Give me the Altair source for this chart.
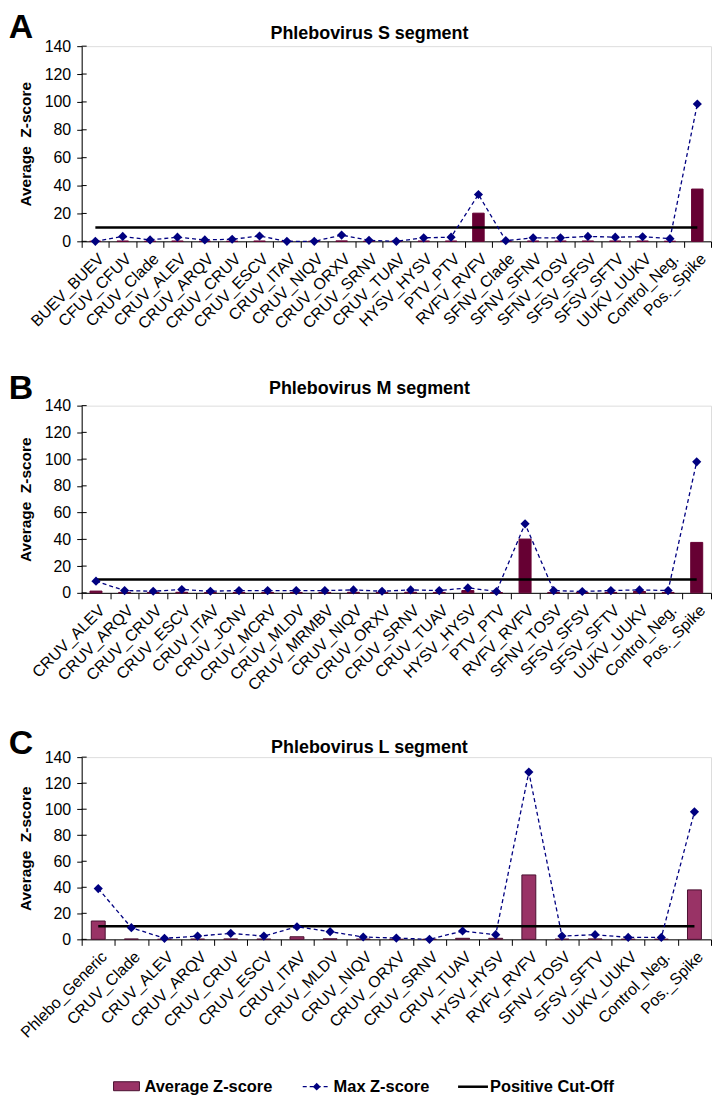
import altair as alt
import pandas as pd

# ---------------- data ----------------
s_cats = ["BUEV_BUEV", "CFUV_CFUV", "CRUV_Clade", "CRUV_ALEV", "CRUV_ARQV", "CRUV_CRUV",
          "CRUV_ESCV", "CRUV_ITAV", "CRUV_NIQV", "CRUV_ORXV", "CRUV_SRNV", "CRUV_TUAV",
          "HYSV_HYSV", "PTV_PTV", "RVFV_RVFV", "SFNV_Clade", "SFNV_SFNV", "SFNV_TOSV",
          "SFSV_SFSV", "SFSV_SFTV", "UUKV_UUKV", "Control_Neg.", "Pos._Spike"]
s_avg = [0, 0.2, 0, 0.2, 0, 0, 0.2, 0, 0, 0.3, 0, 0, 0.2, 0.2, 20.2, 0, 0.2, 0.2, 0.2, 0.2, 0.2, 0, 37.5]
s_max = [0, 3.5, 1, 3, 1, 1.5, 3.8, 0, 0, 4.5, 0.7, 0, 2.5, 3, 33.6, 0.5, 2.5, 2.5, 3.5, 3, 3.3, 1.9, 98.5]

m_cats = ["CRUV_ALEV", "CRUV_ARQV", "CRUV_CRUV", "CRUV_ESCV", "CRUV_ITAV", "CRUV_JCNV",
          "CRUV_MCRV", "CRUV_MLDV", "CRUV_MRMBV", "CRUV_NIQV", "CRUV_ORXV", "CRUV_SRNV",
          "CRUV_TUAV", "HYSV_HYSV", "PTV_PTV", "RVFV_RVFV", "SFNV_TOSV", "SFSV_SFSV",
          "SFSV_SFTV", "UUKV_UUKV", "Control_Neg.", "Pos._Spike"]
m_avg = [1.3, 0.3, 0.2, 0.4, 0.2, 0.3, 0.3, 0.3, 0.3, 0.4, 0.2, 0.4, 0.3, 1.7, 0.2, 40.2, 0.3, 0.2, 0.3, 1.0, 0.3, 37.7]
m_max = [8.7, 1.7, 1.2, 2.5, 1.2, 1.7, 1.7, 1.7, 1.7, 2.2, 1.2, 2.2, 1.7, 3.7, 1.0, 51.6, 1.7, 1.0, 1.7, 2.2, 1.7, 98]

l_cats = ["Phlebo_Generic", "CRUV_Clade", "CRUV_ALEV", "CRUV_ARQV", "CRUV_CRUV", "CRUV_ESCV",
          "CRUV_ITAV", "CRUV_MLDV", "CRUV_NIQV", "CRUV_ORXV", "CRUV_SRNV", "CRUV_TUAV",
          "HYSV_HYSV", "RVFV_RVFV", "SFNV_TOSV", "SFSV_SFTV", "UUKV_UUKV", "Control_Neg.", "Pos._Spike"]
l_avg = [14.1, 0.3, 0, 0.2, 0.3, 0.2, 2.0, 0.4, 0.2, 0, 0, 0.8, 0.8, 49.5, 0.2, 0.3, 0.1, 0.1, 38]
l_max = [39, 9, 0.8, 2.5, 4.6, 2.5, 9.7, 5.9, 1.8, 1.0, 0, 6.4, 3.6, 128.5, 2.5, 3.6, 1.5, 1.5, 98]

cut_off = 10
y_ticks = [0, 20, 40, 60, 80, 100, 120, 140]

panels = [
    # title, letter, cats, avg, max
    ("Phlebovirus S segment", "A", s_cats, s_avg, s_max),
    ("Phlebovirus M segment", "B", m_cats, m_avg, m_max),
    ("Phlebovirus L segment", "C", l_cats, l_avg, l_max),
]

legend_labels = ["Average Z-score", "Max Z-score", "Positive Cut-Off"]
y_title = "Average\u00a0 Z-score"

# ---------------- style ----------------
FONT = "Liberation Sans"
NAVY = "#000080"
PLOT_W = 632
heights = [196, 188, 183]
bar_fill = ["#660033", "#660033", "#993366"]
bar_stroke = ["#660033", "#660033", "#4a1030"]
title_dy = [-12, -17, -9]
letter_dy = [-18, -17, -13]


def make_panel(i, title, letter, cats, avg, mx, with_legend=False):
    h = heights[i]
    df = pd.DataFrame({"cat": cats, "avg": avg, "max": mx, "cut": [cut_off] * len(cats)})
    base = alt.Chart(df)
    x = alt.X("cat:N", sort=cats, title=None,
              scale=alt.Scale(paddingInner=0, paddingOuter=0),
              axis=alt.Axis(labelAngle=-45, labelFontSize=16, labelFont=FONT, labelColor="black",
                            labelOverlap=False, labelPadding=3, labelLimit=300,
                            tickBand="extent", tickSize=6, tickColor="black", tickWidth=1,
                            domainColor="black", domainWidth=1, grid=False))
    yaxis = alt.Axis(values=y_ticks, title=y_title, titleFontSize=15.5,
                     titleFont=FONT, titleFontWeight="bold", titleColor="black", titlePadding=11,
                     labelFontSize=16, labelFont=FONT, labelColor="black", labelPadding=6,
                     tickSize=5, tickColor="black", domainColor="black", grid=False)
    yscale = alt.Scale(domain=[0, 140], nice=False)

    # inner half of the crossing y ticks
    inner = alt.Chart(pd.DataFrame({"v": y_ticks})).mark_rule(color="black", strokeWidth=1).encode(
        y=alt.Y("v:Q", scale=yscale, axis=yaxis), x=alt.value(0), x2=alt.value(5))

    bars = base.mark_bar(width=alt.RelativeBandSize(0.42), fill=bar_fill[i],
                         stroke=bar_stroke[i], strokeWidth=1).encode(
        x=x, y=alt.Y("avg:Q", scale=yscale, axis=yaxis))
    cut = base.mark_line(color="black", strokeWidth=2.5).encode(
        x=x, y=alt.Y("cut:Q", scale=yscale, axis=yaxis))
    line = base.mark_line(color=NAVY, strokeDash=[4, 3], strokeWidth=1.3,
                          point=alt.OverlayMarkDef(shape="diamond", size=85, filled=True,
                                                   color=NAVY, opacity=1)).encode(
        x=x, y=alt.Y("max:Q", scale=yscale, axis=yaxis))

    one = pd.DataFrame({"t": [title], "l": [letter]})
    ttl = alt.Chart(one).mark_text(font=FONT, fontSize=18, fontWeight="bold", color="black",
                                   align="center", baseline="middle").encode(
        x=alt.value(289), y=alt.value(title_dy[i]), text="t:N")
    let = alt.Chart(one).mark_text(font=FONT, fontSize=34, fontWeight="bold", color="black",
                                   align="center", baseline="middle").encode(
        x=alt.value(-61), y=alt.value(letter_dy[i]), text="l:N")

    layers = [bars, inner, cut, line, ttl, let]

    if with_legend:
        ly = h + 148
        leg = pd.DataFrame({"name": legend_labels})
        sw = alt.Chart(leg).transform_filter(alt.datum.name == legend_labels[0]).mark_rect(
            fill="#993366", stroke="#4a1030", strokeWidth=1).encode(
            x=alt.value(32), x2=alt.value(58), y=alt.value(ly - 5), y2=alt.value(ly + 4))
        t1 = alt.Chart(leg).transform_filter(alt.datum.name == legend_labels[0]).mark_text(
            font=FONT, fontSize=16.5, fontWeight="bold", align="left", baseline="middle",
            color="black").encode(x=alt.value(63), y=alt.value(ly), text="name:N")
        dl = alt.Chart(leg).transform_filter(alt.datum.name == legend_labels[1]).mark_rule(
            color=NAVY, strokeDash=[4, 3], strokeWidth=1.3).encode(
            x=alt.value(222), x2=alt.value(250), y=alt.value(ly))
        dp = alt.Chart(leg).transform_filter(alt.datum.name == legend_labels[1]).mark_point(
            shape="diamond", size=60, filled=True, color=NAVY, opacity=1).encode(
            x=alt.value(236), y=alt.value(ly))
        t2 = alt.Chart(leg).transform_filter(alt.datum.name == legend_labels[1]).mark_text(
            font=FONT, fontSize=16.5, fontWeight="bold", align="left", baseline="middle",
            color="black").encode(x=alt.value(253), y=alt.value(ly), text="name:N")
        bl = alt.Chart(leg).transform_filter(alt.datum.name == legend_labels[2]).mark_rule(
            color="black", strokeWidth=2.5).encode(
            x=alt.value(378), x2=alt.value(408), y=alt.value(ly))
        t3 = alt.Chart(leg).transform_filter(alt.datum.name == legend_labels[2]).mark_text(
            font=FONT, fontSize=16.5, fontWeight="bold", align="left", baseline="middle",
            color="black").encode(x=alt.value(410), y=alt.value(ly), text="name:N")
        layers += [sw, t1, dl, dp, t2, bl, t3]

    return alt.layer(*layers).properties(width=PLOT_W, height=h)


charts = [make_panel(i, *p, with_legend=(i == 2)) for i, p in enumerate(panels)]

chart = alt.vconcat(*charts, spacing=165, bounds="flush").properties(
    padding={"left": 0, "top": 0, "right": 0, "bottom": 0}
).configure_view(stroke=None).configure(font=FONT)

chart.save("out.html", embed_options={"renderer": "svg", "actions": False})
